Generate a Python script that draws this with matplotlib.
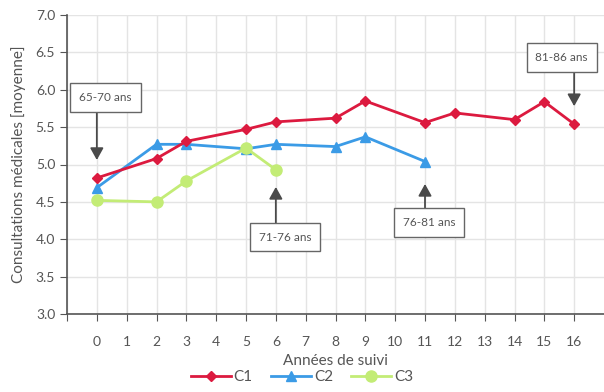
import matplotlib
matplotlib.use("Agg")
import matplotlib.pyplot as plt

# Data
years_c1 = [0, 2, 3, 5, 6, 8, 9, 11, 12, 14, 15, 16]
c1 = [4.82, 5.08, 5.31, 5.47, 5.57, 5.62, 5.85, 5.56, 5.69, 5.60, 5.84, 5.54]
years_c2 = [0, 2, 3, 5, 6, 8, 9, 11]
c2 = [4.69, 5.27, 5.27, 5.21, 5.27, 5.24, 5.37, 5.04]
years_c3 = [0, 2, 3, 5, 6]
c3 = [4.52, 4.50, 4.78, 5.22, 4.93]
xticks = list(range(0, 17))
yticks = [3.0, 3.5, 4.0, 4.5, 5.0, 5.5, 6.0, 6.5, 7.0]

# annotations: label, box center, arrow start, arrow tip
notes = [
    ("65-70 ans", (0.29, 5.90), (0, 5.71), (0, 5.06)),
    ("71-76 ans", (6.31, 4.03), (6, 4.22), (6, 4.70)),
    ("76-81 ans", (11.13, 4.22), (11, 4.42), (11, 4.74)),
    ("81-86 ans", (15.58, 6.43), (16, 6.24), (16, 5.78)),
]

plt.rcParams['font.family'] = ['Lato', 'DejaVu Sans']
text_col = '#555555'

fig = plt.figure(figsize=(6.04, 3.92), dpi=100)
ax = fig.add_axes([67 / 604, 1 - 314 / 392, 537 / 604, 299 / 392])

ax.plot(years_c1, c1, color='#dc1a3f', marker='D', markersize=5.5, lw=2, label='C1', zorder=4)
ax.plot(years_c2, c2, color='#3b9be6', marker='^', markersize=7.5, lw=2, label='C2', zorder=3)
ax.plot(years_c3, c3, color='#c3ec76', marker='o', markersize=8, lw=2, label='C3', zorder=3)

for label, center, start, tip in notes:
    ax.annotate('', xy=tip, xytext=start,
                arrowprops=dict(arrowstyle='-|>,head_width=0.25,head_length=0.45',
                                color='#4a4a4a', lw=1.3,
                                mutation_scale=16, shrinkA=0, shrinkB=0), zorder=5)
    ax.text(center[0], center[1], label, ha='center', va='center', fontsize=8.5,
            color=text_col, zorder=6,
            bbox=dict(boxstyle='square,pad=0.75', fc='white', ec='#666666', lw=1))

ax.set_xlim(-1, 17)
ax.set_ylim(3.0, 7.0)
ax.set_xticks([-1] + xticks)
ax.set_xticklabels([''] + [str(v) for v in xticks])
ax.set_yticks(yticks)
ax.set_yticklabels(['%.1f' % v for v in yticks])
ax.grid(True, color='#e4e4e4', lw=1)
ax.set_axisbelow(True)
for s in ['top', 'right']:
    ax.spines[s].set_visible(False)
for s in ['left', 'bottom']:
    ax.spines[s].set_color('#555555')
    ax.spines[s].set_linewidth(1.2)
ax.tick_params(colors='#555555', labelcolor=text_col, labelsize=10, length=5)
ax.tick_params(axis='x', pad=11)

ax.set_xlabel('Années de suivi', fontsize=11, color=text_col, labelpad=4)
ax.set_ylabel('Consultations médicales [moyenne]', fontsize=11, color=text_col, labelpad=7)

fig.legend(loc='lower center', bbox_to_anchor=(0.5, -0.015), ncol=3, frameon=False,
           fontsize=11, labelcolor=text_col, handlelength=2.6, columnspacing=1.2,
           handletextpad=0.2)

fig.savefig('out.png', dpi=100)
